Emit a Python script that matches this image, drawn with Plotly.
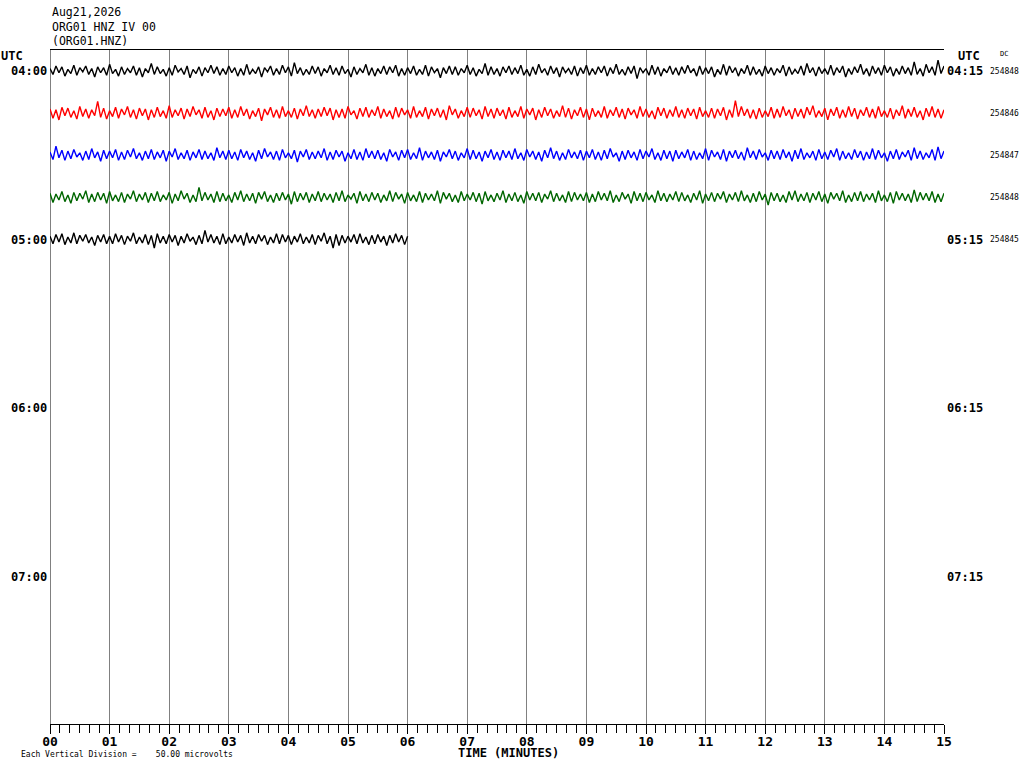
import numpy as np
import plotly.graph_objects as go

# helicorder header
title_lines = ["Aug21,2026", "ORG01 HNZ IV 00", "(ORG01.HNZ)"]
left_labels = ["04:00", "05:00", "06:00", "07:00"]
right_labels = ["04:15", "05:15", "06:15", "07:15"]
label_rows = [0, 4, 8, 12]
dc_values = ["254848", "254846", "254847", "254848", "254845"]
trace_colors = ["#000000", "#ff0000", "#0000ff", "#006600", "#000000"]
minute_ticks = ["%02d" % m for m in range(16)]
sample_sec = 3
uv_per_row = 50.0

# trace samples (microvolts about DC), one list per 15 minute line
row0 = [3,-4,6,-2,5,-6,2,-3,7,-5,4,-1,6,-4,3,-7,5,-2,4,-5,8,-3,2,-6,5,-4,3,-2,6,-5,
        4,-7,3,-2,9,-4,5,-3,2,-6,4,-5,7,-1,3,-4,6,-8,2,-3,5,-6,4,-2,7,-3,5,-5,3,-4,
        6,-2,4,-6,3,-5,8,-4,2,-3,5,-7,4,-1,6,-5,3,-4,7,-2,5,-6,10,-3,4,-5,2,-4,6,-3,
        5,-6,3,-2,7,-4,4,-5,6,-3,2,-7,5,-4,3,-2,8,-5,4,-6,3,-3,6,-4,5,-2,7,-6,3,-5,
        4,-3,6,-5,2,-4,7,-6,5,-2,3,-8,4,-3,6,-4,5,-5,3,-2,7,-4,4,-6,2,-3,9,-5,5,-4,
        3,-6,5,-2,6,-4,4,-3,7,-5,2,-6,5,-4,8,-2,3,-5,6,-3,4,-7,5,-2,3,-4,6,-6,4,-3,
        7,-5,3,-4,5,-2,6,-6,4,-3,8,-4,2,-5,5,-3,6,-9,4,-2,3,-5,7,-4,5,-6,3,-2,6,-4,
        4,-5,5,-3,7,-2,3,-6,6,-4,4,-3,5,-7,2,-4,8,-5,6,-2,4,-6,3,-3,7,-5,5,-4,2,-6,
        6,-3,4,-5,3,-2,7,-6,5,-4,2,-3,6,-5,9,-2,4,-6,5,-3,3,-4,7,-5,4,-2,6,-7,3,-4,
        5,-2,8,-4,3,-6,6,-3,4,-5,7,-2,5,-6,3,-4,6,-3,4,-5,11,-4,3,-6,8,-2,5,-5,13,-3,
        6]
row1 = [5,-6,4,-8,7,-3,6,-5,3,-7,8,-4,5,-6,4,-3,14,-5,6,-7,3,-4,7,-6,5,-2,8,-5,4,-7,
        6,-3,5,-8,4,-5,7,-4,3,-6,9,-5,4,-3,6,-7,5,-4,8,-2,4,-6,7,-5,3,-8,6,-4,5,-3,
        7,-6,4,-5,8,-3,5,-7,3,-4,6,-9,5,-2,7,-5,4,-6,8,-4,3,-5,6,-7,5,-3,9,-4,4,-6,
        5,-4,7,-3,6,-8,4,-5,5,-6,8,-2,3,-7,6,-4,7,-5,4,-3,8,-6,5,-4,3,-7,7,-5,6,-2,
        4,-6,8,-5,3,-4,7,-7,5,-3,6,-5,4,-8,9,-2,5,-6,3,-4,7,-5,6,-3,4,-7,8,-4,5,-6,
        6,-3,4,-7,7,-5,3,-4,8,-6,5,-2,6,-8,4,-5,7,-3,5,-6,3,-4,9,-5,6,-7,4,-3,7,-5,
        5,-8,6,-4,3,-5,8,-6,4,-3,7,-5,5,-7,6,-2,4,-6,8,-4,5,-5,3,-7,7,-3,6,-6,4,-4,
        8,-5,4,-6,6,-3,5,-7,7,-4,3,-5,6,-6,5,-3,7,-8,4,-5,15,-4,8,-3,5,-6,4,-7,6,-5,
        3,-4,7,-6,5,-5,8,-3,4,-7,6,-4,5,-6,7,-2,9,-5,3,-4,6,-8,5,-3,7,-6,4,-5,8,-4,
        6,-7,4,-3,7,-5,5,-6,8,-4,3,-5,6,-7,4,-3,9,-6,5,-4,7,-5,3,-8,6,-4,8,-5,5,-6,
        4]
row2 = [4,-5,11,-3,6,-6,5,-4,7,-2,3,-6,5,-5,8,-3,4,-7,6,-4,5,-3,7,-6,4,-5,6,-2,8,-4,
        3,-6,5,-4,7,-5,4,-3,6,-7,5,-2,8,-5,3,-4,6,-6,4,-3,7,-5,5,-4,3,-6,9,-3,5,-5,
        6,-4,4,-6,7,-3,5,-5,3,-7,6,-4,8,-2,4,-5,5,-6,7,-3,3,-4,6,-8,5,-2,7,-5,4,-4,
        5,-3,8,-6,4,-5,6,-2,5,-7,3,-4,7,-5,4,-6,8,-3,5,-4,6,-5,3,-7,7,-2,4,-6,6,-3,
        7,-5,3,-4,9,-6,5,-3,4,-5,6,-7,4,-2,7,-4,5,-6,3,-3,8,-5,6,-4,4,-7,5,-3,7,-5,
        4,-6,6,-3,5,-5,8,-4,3,-6,7,-2,5,-5,4,-7,6,-3,9,-4,5,-6,3,-5,7,-3,4,-4,6,-6,
        5,-3,7,-5,4,-6,6,-4,8,-2,3,-7,5,-5,6,-3,4,-6,7,-4,5,-2,8,-5,3,-6,6,-4,5,-7,
        6,-4,4,-3,7,-6,5,-5,3,-4,8,-6,6,-2,4,-5,7,-7,5,-3,6,-4,4,-6,9,-3,5,-5,7,-2,
        3,-6,6,-4,5,-5,7,-3,4,-7,6,-4,8,-5,3,-3,5,-6,7,-4,4,-5,6,-2,8,-6,5,-4,3,-5,
        7,-3,5,-6,4,-4,8,-5,6,-3,3,-7,5,-4,7,-5,4,-2,6,-6,9,-4,5,-5,3,-3,7,-6,10,-4,
        5]
row3 = [5,-6,4,-3,7,-5,3,-7,6,-4,5,-2,8,-6,4,-5,6,-3,5,-7,7,-4,3,-5,6,-6,4,-2,8,-5,
        4,-3,6,-6,5,-4,7,-5,3,-3,6,-7,4,-4,8,-2,5,-6,3,-5,12,-4,6,-3,4,-6,7,-5,5,-4,
        3,-6,6,-3,8,-5,4,-4,5,-7,6,-2,7,-5,3,-6,5,-4,6,-3,4,-8,7,-5,5,-3,6,-6,4,-4,
        7,-5,5,-3,4,-6,6,-4,8,-5,3,-2,5,-7,7,-4,4,-5,6,-3,5,-6,3,-4,8,-5,6,-2,4,-7,
        6,-4,3,-5,7,-6,5,-3,4,-4,8,-7,6,-2,5,-5,3,-6,7,-4,4,-3,6,-5,5,-8,7,-4,3,-5,
        5,-3,8,-6,4,-4,6,-5,3,-7,7,-3,5,-4,6,-6,4,-2,8,-5,5,-4,3,-6,7,-5,6,-3,4,-4,
        6,-6,4,-5,7,-3,5,-4,8,-6,3,-5,6,-2,4,-7,7,-4,5,-5,6,-3,3,-6,8,-4,5,-5,4,-3,
        7,-5,6,-4,3,-6,5,-3,8,-7,4,-4,6,-5,5,-2,7,-6,4,-3,6,-5,8,-4,3,-6,5,-5,7,-3,
        4,-9,6,-4,5,-5,3,-6,7,-3,8,-5,4,-4,6,-6,5,-3,7,-5,4,-7,6,-2,5,-4,8,-6,3,-5,
        6,-4,7,-5,4,-3,5,-6,8,-4,3,-5,6,-7,7,-3,5,-4,4,-6,9,-5,6,-3,5,-4,7,-6,4,-5,
        5]
row4 = [4,-5,6,-3,7,-6,3,-4,8,-5,5,-2,6,-4,3,-7,5,-3,6,-5,
        4,-5,7,-3,5,-6,4,-2,8,-5,3,-4,6,-6,5,-10,7,-4,4,-5,
        6,-3,5,-7,4,-4,7,-2,3,-6,5,-5,11,-3,6,-4,4,-6,7,-5,
        3,-4,6,-3,5,-7,8,-4,4,-5,6,-2,5,-6,3,-4,7,-5,6,-3,
        5,-6,4,-3,7,-5,3,-4,6,-6,5,-2,8,-5,4,-10,6,-7,5,-4,
        4,-3,6,-5,7,-4,3,-6,5,-5,6,-3,4,-7,5,-4,7,-3,5,-6,
        4]
rows = [row0, row1, row2, row3, row4]

mono = "DejaVu Sans Mono"

fig = go.Figure()
for i, vals in enumerate(rows):
    v = np.array(vals, dtype=float)
    t = np.arange(len(v)) * sample_sec / 60.0
    fig.add_trace(go.Scatter(x=t, y=-i + v / uv_per_row, mode="lines",
                             line=dict(color=trace_colors[i], width=1.4),
                             showlegend=False, hoverinfo="skip"))

ann = []
for j, txt in enumerate(title_lines):
    ann.append(dict(x=0, y=1, xref="paper", yref="paper", text=txt, showarrow=False,
                    xanchor="left", yanchor="middle", yshift=38 - 14.5 * j,
                    font=dict(family=mono, size=11.5, color="black")))
for r, l, rl in zip(label_rows, left_labels, right_labels):
    ann.append(dict(x=0, y=-r, xref="paper", yref="y", text="<b>%s</b>" % l, showarrow=False,
                    xanchor="right", yanchor="middle", xshift=-1,
                    font=dict(family=mono, size=12, color="black")))
    ann.append(dict(x=1, y=-r, xref="paper", yref="y", text="<b>%s</b>" % rl, showarrow=False,
                    xanchor="left", yanchor="middle", xshift=1,
                    font=dict(family=mono, size=12, color="black")))
for r, dc in enumerate(dc_values):
    ann.append(dict(x=1, y=-r, xref="paper", yref="y", text=dc, showarrow=False,
                    xanchor="left", yanchor="middle", xshift=44,
                    font=dict(family=mono, size=8, color="black")))
ann.append(dict(x=0, y=1, xref="paper", yref="paper", text="<b>UTC</b>", showarrow=False,
                xanchor="left", yanchor="middle", xshift=-51, yshift=-6,
                font=dict(family=mono, size=12, color="black")))
ann.append(dict(x=1, y=1, xref="paper", yref="paper", text="<b>UTC</b>", showarrow=False,
                xanchor="center", yanchor="middle", xshift=25, yshift=-6,
                font=dict(family=mono, size=12, color="black")))
ann.append(dict(x=1, y=1, xref="paper", yref="paper", text="DC", showarrow=False,
                xanchor="center", yanchor="middle", xshift=60, yshift=-4,
                font=dict(family=mono, size=7, color="black")))
ann.append(dict(x=0.513, y=0, xref="paper", yref="paper", text="<b>TIME (MINUTES)</b>",
                showarrow=False, xanchor="center", yanchor="middle", yshift=-29,
                font=dict(family=mono, size=12, color="black")))
ann.append(dict(x=0, y=0, xref="paper", yref="paper",
                text="Each Vertical Division =    50.00 microvolts", showarrow=False,
                xanchor="left", yanchor="middle", xshift=-31, yshift=-30,
                font=dict(family=mono, size=8, color="black")))

fig.update_layout(
    width=1024, height=768,
    margin=dict(l=50, r=80, t=50, b=44),
    paper_bgcolor="white", plot_bgcolor="white",
    annotations=ann,
    xaxis=dict(range=[0, 15], tickvals=list(range(16)), ticktext=minute_ticks,
               ticks="outside", ticklen=9, tickwidth=1, tickcolor="black",
               ticklabelstandoff=-4,
               tickfont=dict(family=mono, size=13, color="black", weight="bold"),
               showline=True, linecolor="black", linewidth=1, mirror=True,
               showgrid=True, gridcolor="#808080", gridwidth=1,
               zeroline=True, zerolinecolor="#808080", zerolinewidth=1,
               minor=dict(dtick=1 / 6, ticks="outside", ticklen=8, tickcolor="black",
                          showgrid=False)),
    yaxis=dict(range=[-15.5, 0.5], showticklabels=False, showgrid=False,
               zeroline=False, showline=False, ticks=""),
)
fig.write_html("out.html", config={"displayModeBar": False},
               post_script="document.body.style.margin='0';")
